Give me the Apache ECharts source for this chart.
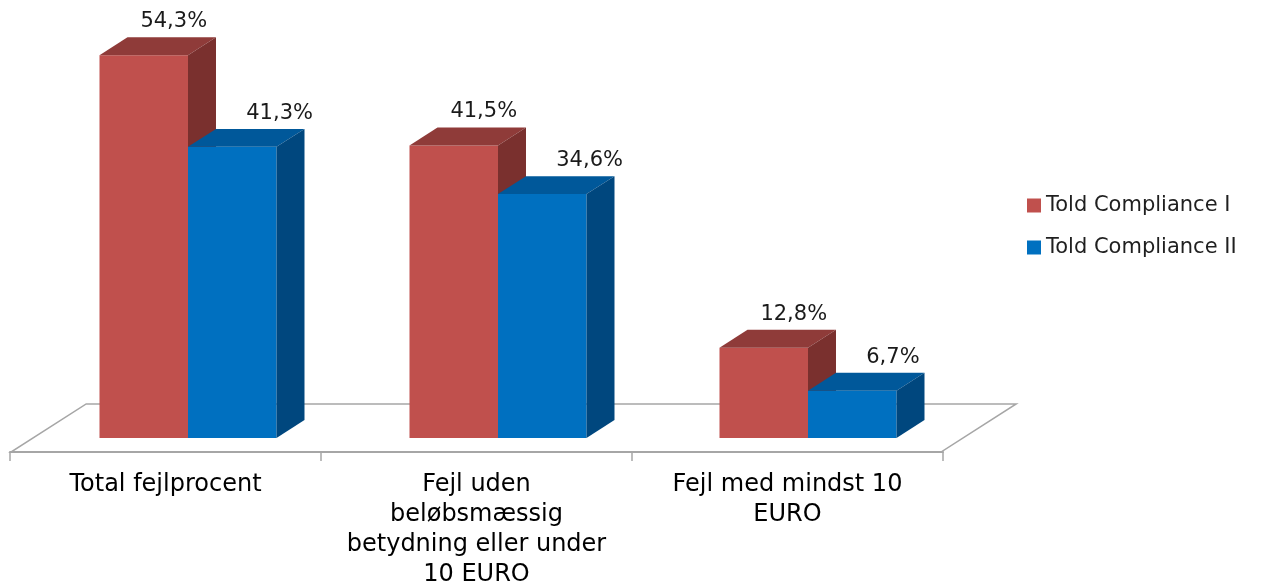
<!DOCTYPE html>
<html>
<head>
<meta charset="utf-8">
<script src="https://cdn.jsdelivr.net/npm/echarts@6/dist/echarts.min.js"></script>
<style>
html,body{margin:0;padding:0;background:#fff;}
#chart{width:1285px;height:585px;}
</style>
</head>
<body>
<div id="chart"></div>
<script>
const categories = ['Total fejlprocent', 'Fejl uden\nbeløbsmæssig\nbetydning eller under\n10 EURO', 'Fejl med mindst 10\nEURO'];
const seriesNames = ['Told Compliance I', 'Told Compliance II'];
const valuesI = [54.3, 41.5, 12.8];
const valuesII = [41.3, 34.6, 6.7];

const palette = [
  {front: '#C0504D', top: '#8F3B39', side: '#7A302E'},
  {front: '#0070C0', top: '#00589A', side: '#00477E'}
];
const FONT = '"DejaVu Sans", Verdana, sans-serif';

function fmt(v) { return v.toFixed(1).replace('.', ',') + '%'; }

function barRenderer(si) {
  const c = palette[si];
  return function (params, api) {
    const ci = api.value(0), v = api.value(1);
    const top = api.coord([ci, v]);
    const base = api.coord([ci, 0]);
    const band = api.size([1, 0])[0];
    const bw = band * 0.2855;
    const dx = band * 0.0903, dy = -dx * 0.64;
    const x0 = si === 0 ? top[0] - bw : top[0];
    const x1 = x0 + bw;
    const ty = top[1], by = base[1];
    const backCx = x0 + bw / 2 + dx;
    return {
      type: 'group',
      children: [
        {type: 'rect', shape: {x: x0, y: ty, width: bw, height: by - ty}, style: {fill: c.front}},
        {type: 'polygon', shape: {points: [[x0, ty], [x1, ty], [x1 + dx, ty + dy], [x0 + dx, ty + dy]]}, style: {fill: c.top}},
        {type: 'polygon', shape: {points: [[x1, ty], [x1 + dx, ty + dy], [x1 + dx, by + dy], [x1, by]]}, style: {fill: c.side}},
        {type: 'text', style: {
          text: fmt(v),
          x: si === 0 ? backCx + 2 : backCx - 14,
          y: ty + dy - 5,
          align: si === 0 ? 'center' : 'left',
          verticalAlign: 'bottom',
          fill: '#1a1a1a',
          font: '21px ' + FONT
        }}
      ]
    };
  };
}

function floorRenderer(params, api) {
  const cs = params.coordSys;
  const base = api.coord([0, 0])[1];
  const band = cs.width / categories.length;
  const dx = band * 0.0903, dy = -dx * 0.64;
  const f = 0.8, b = 1.9;
  const fl = [cs.x - f * dx, base - f * dy];
  const fr = [cs.x + cs.width - f * dx, base - f * dy];
  const bl = [cs.x + b * dx, base + b * dy];
  const br = [cs.x + cs.width + b * dx, base + b * dy];
  return {
    type: 'polygon', shape: {points: [fl, fr, br, bl]},
    style: {fill: '#ffffff', stroke: '#a6a6a6', lineWidth: 1.5}
  };
}

const chart = echarts.init(document.getElementById('chart'), null, {renderer: 'canvas'});
chart.setOption({
  animation: false,
  backgroundColor: '#ffffff',
  grid: [
    {left: 33, right: 322, top: 15, bottom: 147, outerBoundsMode: 'none', containLabel: false},
    {left: 10, right: 342, top: 15, bottom: 133, outerBoundsMode: 'none', containLabel: false}
  ],
  xAxis: [
    {type: 'category', gridIndex: 0, data: categories, show: false},
    {type: 'category', gridIndex: 1, data: categories, z: 10,
     axisLine: {show: true, onZero: false, lineStyle: {color: '#a6a6a6', width: 2}},
     axisTick: {show: true, length: 9, alignWithLabel: false, lineStyle: {color: '#a6a6a6', width: 1.5}},
     axisLabel: {interval: 0, margin: 18, fontSize: 24, lineHeight: 30, color: '#000', fontFamily: FONT}}
  ],
  yAxis: [
    {type: 'value', gridIndex: 0, min: 0, max: 60, show: false},
    {type: 'value', gridIndex: 1, min: 0, max: 1, show: false}
  ],
  legend: {
    orient: 'vertical', left: 1022, top: 190,
    itemWidth: 14, itemHeight: 14, itemGap: 21, icon: 'rect',
    textStyle: {fontSize: 21, color: '#1f1f1f', fontFamily: FONT},
    data: seriesNames
  },
  series: [
    {type: 'custom', name: 'floor', xAxisIndex: 0, yAxisIndex: 0, renderItem: floorRenderer, data: [[0, 0]], z: 1, silent: true},
    {type: 'custom', name: seriesNames[0], xAxisIndex: 0, yAxisIndex: 0, renderItem: barRenderer(0),
     itemStyle: {color: palette[0].front}, data: valuesI.map((v, i) => [i, v]), z: 3},
    {type: 'custom', name: seriesNames[1], xAxisIndex: 0, yAxisIndex: 0, renderItem: barRenderer(1),
     itemStyle: {color: palette[1].front}, data: valuesII.map((v, i) => [i, v]), z: 4}
  ]
});
</script>
</body>
</html>
